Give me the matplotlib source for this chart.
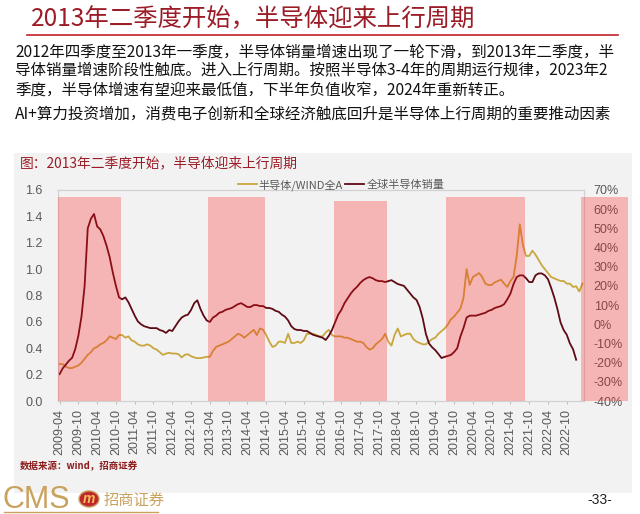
import matplotlib
matplotlib.use('Agg')
import matplotlib.pyplot as plt
from matplotlib.patches import Rectangle, Circle
from matplotlib.lines import Line2D
import numpy as np

plt.rcParams['font.family'] = ['Liberation Sans', 'Noto Sans CJK SC']
CJK = ['Noto Sans CJK SC', 'DejaVu Sans']

# ---------------- data ----------------
first_month = '2009-04'
ratio_name = '半导体/WIND全A'
sales_name = '全球半导体销量'

# 半导体/WIND全A (left axis), monthly from 2009-04
ratio = [0.28, 0.28, 0.26, 0.25, 0.25, 0.26, 0.27, 0.29, 0.32, 0.35,
         0.37, 0.40, 0.41, 0.43, 0.44, 0.46, 0.49, 0.48, 0.47, 0.50,
         0.50, 0.48, 0.49, 0.46, 0.45, 0.43, 0.42, 0.42, 0.43, 0.42,
         0.40, 0.39, 0.37, 0.35, 0.36, 0.365, 0.36, 0.36, 0.355, 0.33,
         0.35, 0.355, 0.34, 0.33, 0.325, 0.325, 0.33, 0.335, 0.335, 0.38,
         0.41, 0.42, 0.43, 0.44, 0.45, 0.47, 0.49, 0.51, 0.50, 0.48,
         0.50, 0.52, 0.54, 0.50, 0.55, 0.54, 0.50, 0.45, 0.41, 0.42,
         0.45, 0.45, 0.44, 0.51, 0.44, 0.44, 0.45, 0.44, 0.46, 0.51,
         0.51, 0.51, 0.50, 0.49, 0.49, 0.52, 0.54, 0.50, 0.49, 0.49,
         0.49, 0.48, 0.48, 0.47, 0.46, 0.45, 0.45, 0.44, 0.41, 0.39,
         0.40, 0.43, 0.45, 0.47, 0.51, 0.45, 0.42, 0.50, 0.55, 0.49,
         0.50, 0.51, 0.51, 0.47, 0.45, 0.44, 0.43, 0.43, 0.45, 0.47,
         0.48, 0.51, 0.53, 0.55, 0.58, 0.62, 0.64, 0.67, 0.70, 0.78,
         1.00, 0.88, 0.94, 0.955, 0.97, 0.94, 0.89, 0.88, 0.88, 0.90,
         0.91, 0.92, 0.89, 0.865, 0.91, 0.94, 1.10, 1.34, 1.18, 1.10,
         1.10, 1.14, 1.11, 1.07, 1.03, 1.00, 0.97, 0.94, 0.93, 0.92,
         0.91, 0.91, 0.89, 0.89, 0.865, 0.87, 0.83, 0.89]

# 全球半导体销量 growth, % (right axis), monthly from 2009-04
sales_growth = [-26, -23, -21, -19, -17.5, -13, -6, 4, 20, 50,
                55, 57.5, 51, 49.5, 46, 41, 35, 27, 20, 14,
                13, 14, 11.5, 8, 4.5, 1.5, 0, -1, -1.5, -2,
                -2, -2, -3, -3.5, -4.5, -3, -3.5, -1, 1.5, 3.5,
                4.5, 5, 7.5, 11, 12.5, 8, 4.5, 2, 1.2, 3.5,
                4.5, 6, 6.5, 7.5, 8, 8.5, 9.5, 10.5, 11, 10,
                9, 9, 10, 10, 9.5, 9.5, 8.5, 8.5, 8, 7,
                6.5, 5, 4, 2, -1, -2.5, -3, -3, -3.5, -3.5,
                -4.5, -5.5, -6, -6.5, -7, -8.2, -6, -3, 1, 5,
                7.5, 11, 13.5, 16, 18, 19.5, 21.5, 23, 24, 24.6,
                24, 23, 22.5, 22.5, 22, 22.5, 23, 22, 21, 20.5,
                20, 18, 16, 14, 12.7, 9, 3, -5, -10, -12,
                -13.5, -15.5, -17.6, -17, -16.5, -16, -14.5, -12.5, -6.5, -2,
                3.5, 4.5, 4.5, 4.5, 5, 5.5, 6, 7, 7.5, 8.5,
                9, 9.5, 10.5, 13, 16, 21, 24.6, 25.5, 25.5, 24,
                22, 22, 25.5, 26.5, 26.5, 25.5, 23.5, 19, 14, 8,
                1, -3, -5.5, -10, -13, -18.5]

band_starts = ['2009-04', '2013-04', '2016-08', '2019-08', '2023-03']
band_ends = ['2010-11', '2014-09', '2017-12', '2021-08', '2024-05']
band_tops = [1.55, 1.55, 1.52, 1.55, 1.55]

tick_labels = ['2009-04', '2009-10', '2010-04', '2010-10', '2011-04', '2011-10',
               '2012-04', '2012-10', '2013-04', '2013-10', '2014-04', '2014-10',
               '2015-04', '2015-10', '2016-04', '2016-10', '2017-04', '2017-10',
               '2018-04', '2018-10', '2019-04', '2019-10', '2020-04', '2020-10',
               '2021-04', '2021-10', '2022-04', '2022-10']

left_ticks = [0.0, 0.2, 0.4, 0.6, 0.8, 1.0, 1.2, 1.4, 1.6]
right_ticks = [-40, -30, -20, -10, 0, 10, 20, 30, 40, 50, 60, 70]

title = '2013年二季度开始，半导体迎来上行周期'
body = ['2012年四季度至2013年一季度，半导体销量增速出现了一轮下滑，到2013年二季度，半',
        '导体销量增速阶段性触底。进入上行周期。按照半导体3-4年的周期运行规律，2023年2',
        '季度，半导体增速有望迎来最低值，下半年负值收窄，2024年重新转正。',
        'AI+算力投资增加，消费电子创新和全球经济触底回升是半导体上行周期的重要推动因素']
chart_title = '图：2013年二季度开始，半导体迎来上行周期'
source = '数据来源：wind，招商证券'


def idx(s):
    y0, m0 = int(first_month[:4]), int(first_month[5:])
    return (int(s[:4]) - y0) * 12 + int(s[5:]) - m0


# ---------------- figure ----------------
W, H = 640, 514
fig = plt.figure(figsize=(W / 100, H / 100), dpi=100)
fig.patch.set_facecolor('white')


def fx(x):
    return x / W


def fy(y):
    return 1 - y / H


# gray chart panel (behind the axes)
fig.patches.append(Rectangle((fx(14), fy(493)), fx(632) - fx(14), fy(153) - fy(493),
                             transform=fig.transFigure, facecolor='#F2F2F2',
                             edgecolor='none', zorder=-5))

# header
DARKRED = '#9B1C26'
fig.text(fx(31), fy(19), title, family=CJK, fontsize=17.6, color=DARKRED,
         va='center', ha='left')
fig.add_artist(Line2D([fx(27), fx(618)], [fy(34.5), fy(34.5)], color='#C0202A',
                      lw=1.2, transform=fig.transFigure))
for line, yy in zip(body, [52, 71, 90, 115]):
    fig.text(fx(15), fy(yy), line, family=CJK, fontsize=11.2, color='#111111',
             va='center', ha='left')

fig.text(fx(20), fy(163), chart_title, family=CJK, fontsize=9.9, color=DARKRED,
         va='center', ha='left')
fig.text(fx(20), fy(466), source, family=CJK, fontsize=6.8, color='#8B1A1A',
         va='center', ha='left', weight='bold')

# footer
GOLD = '#C9A25E'
fig.text(fx(3), fy(500), 'CMS', fontsize=22, color=GOLD, va='center', ha='left',
         family=['Liberation Sans Narrow', 'Liberation Sans'])
fig.patches.append(Circle((fx(89), fy(499)), 10.0 / W, transform=fig.transFigure,
                          facecolor='#C0272D', edgecolor=GOLD, lw=1.0, zorder=3))
fig.text(fx(89), fy(499), 'm', fontsize=10, color='#F3C35A', va='center', ha='center',
         style='italic', weight='bold', zorder=4)
fig.text(fx(104), fy(500), '招商证券', family=CJK, fontsize=11, color=GOLD,
         va='center', ha='left')
fig.add_artist(Line2D([fx(4), fx(158)], [fy(512), fy(512)], color=GOLD, lw=1.0,
                      transform=fig.transFigure))
fig.text(fx(600), fy(500), '-33-', fontsize=10, color='#222222', va='center',
         ha='center')

# ---------------- chart ----------------
ax = fig.add_axes([fx(58), fy(401), fx(584) - fx(58), fy(190) - fy(401)])
ax.set_facecolor('none')
ax2 = ax.twinx()
ax2.patch.set_visible(False)

n = len(ratio)
xs = np.arange(n)
YELLOW = '#C9A63E'
MAROON = '#5E0A14'
ax.plot(xs, ratio, color=YELLOW, lw=1.3, zorder=2)
ax2.plot(np.arange(len(sales_growth)), sales_growth, color=MAROON, lw=1.3, zorder=2)

ax.set_xlim(-0.5, n - 0.5)
ax.set_ylim(0, 1.6)
ax2.set_ylim(-40, 70)

# shaded up-cycle bands, drawn on top (semi-transparent)
for s, e, top in zip(band_starts, band_ends, band_tops):
    x0 = idx(s) - 0.5
    x1 = idx(e) + 0.5
    r = Rectangle((x0, 0), x1 - x0, top, transform=ax.transData,
                  facecolor='#FF1A1A', alpha=0.28, edgecolor='none', zorder=5,
                  clip_on=(idx(e) < n))
    ax2.add_patch(r)

ax.set_xticks([idx(t) for t in tick_labels])
ax.set_xticklabels(tick_labels, rotation=90, fontsize=9, color='#595959')
ax.set_yticks(left_ticks)
ax.set_yticklabels([f'{v:.1f}' for v in left_ticks], fontsize=9, color='#595959')
ax2.set_yticks(right_ticks)
ax2.set_yticklabels([f'{v}%' for v in right_ticks], fontsize=9, color='#595959')

ax.tick_params(axis='x', length=2.5, color='#BFBFBF', pad=3)
ax.tick_params(axis='y', length=0, pad=11)
ax2.tick_params(axis='y', length=0, pad=7)

for a in (ax, ax2):
    for sp in a.spines.values():
        sp.set_color('#D0D0D0')
        sp.set_linewidth(0.8)

handles = [Line2D([], [], color=YELLOW, lw=1.3), Line2D([], [], color=MAROON, lw=1.3)]
leg = ax2.legend(handles, [ratio_name, sales_name], loc='center',
                 bbox_to_anchor=(0.538, 1.025), ncol=2, frameon=False,
                 prop={'family': CJK, 'size': 8}, handlelength=1.7,
                 handletextpad=0.2, columnspacing=0.2, borderpad=0)
for t in leg.get_texts():
    t.set_color('#595959')

fig.savefig('out.png', dpi=100)
